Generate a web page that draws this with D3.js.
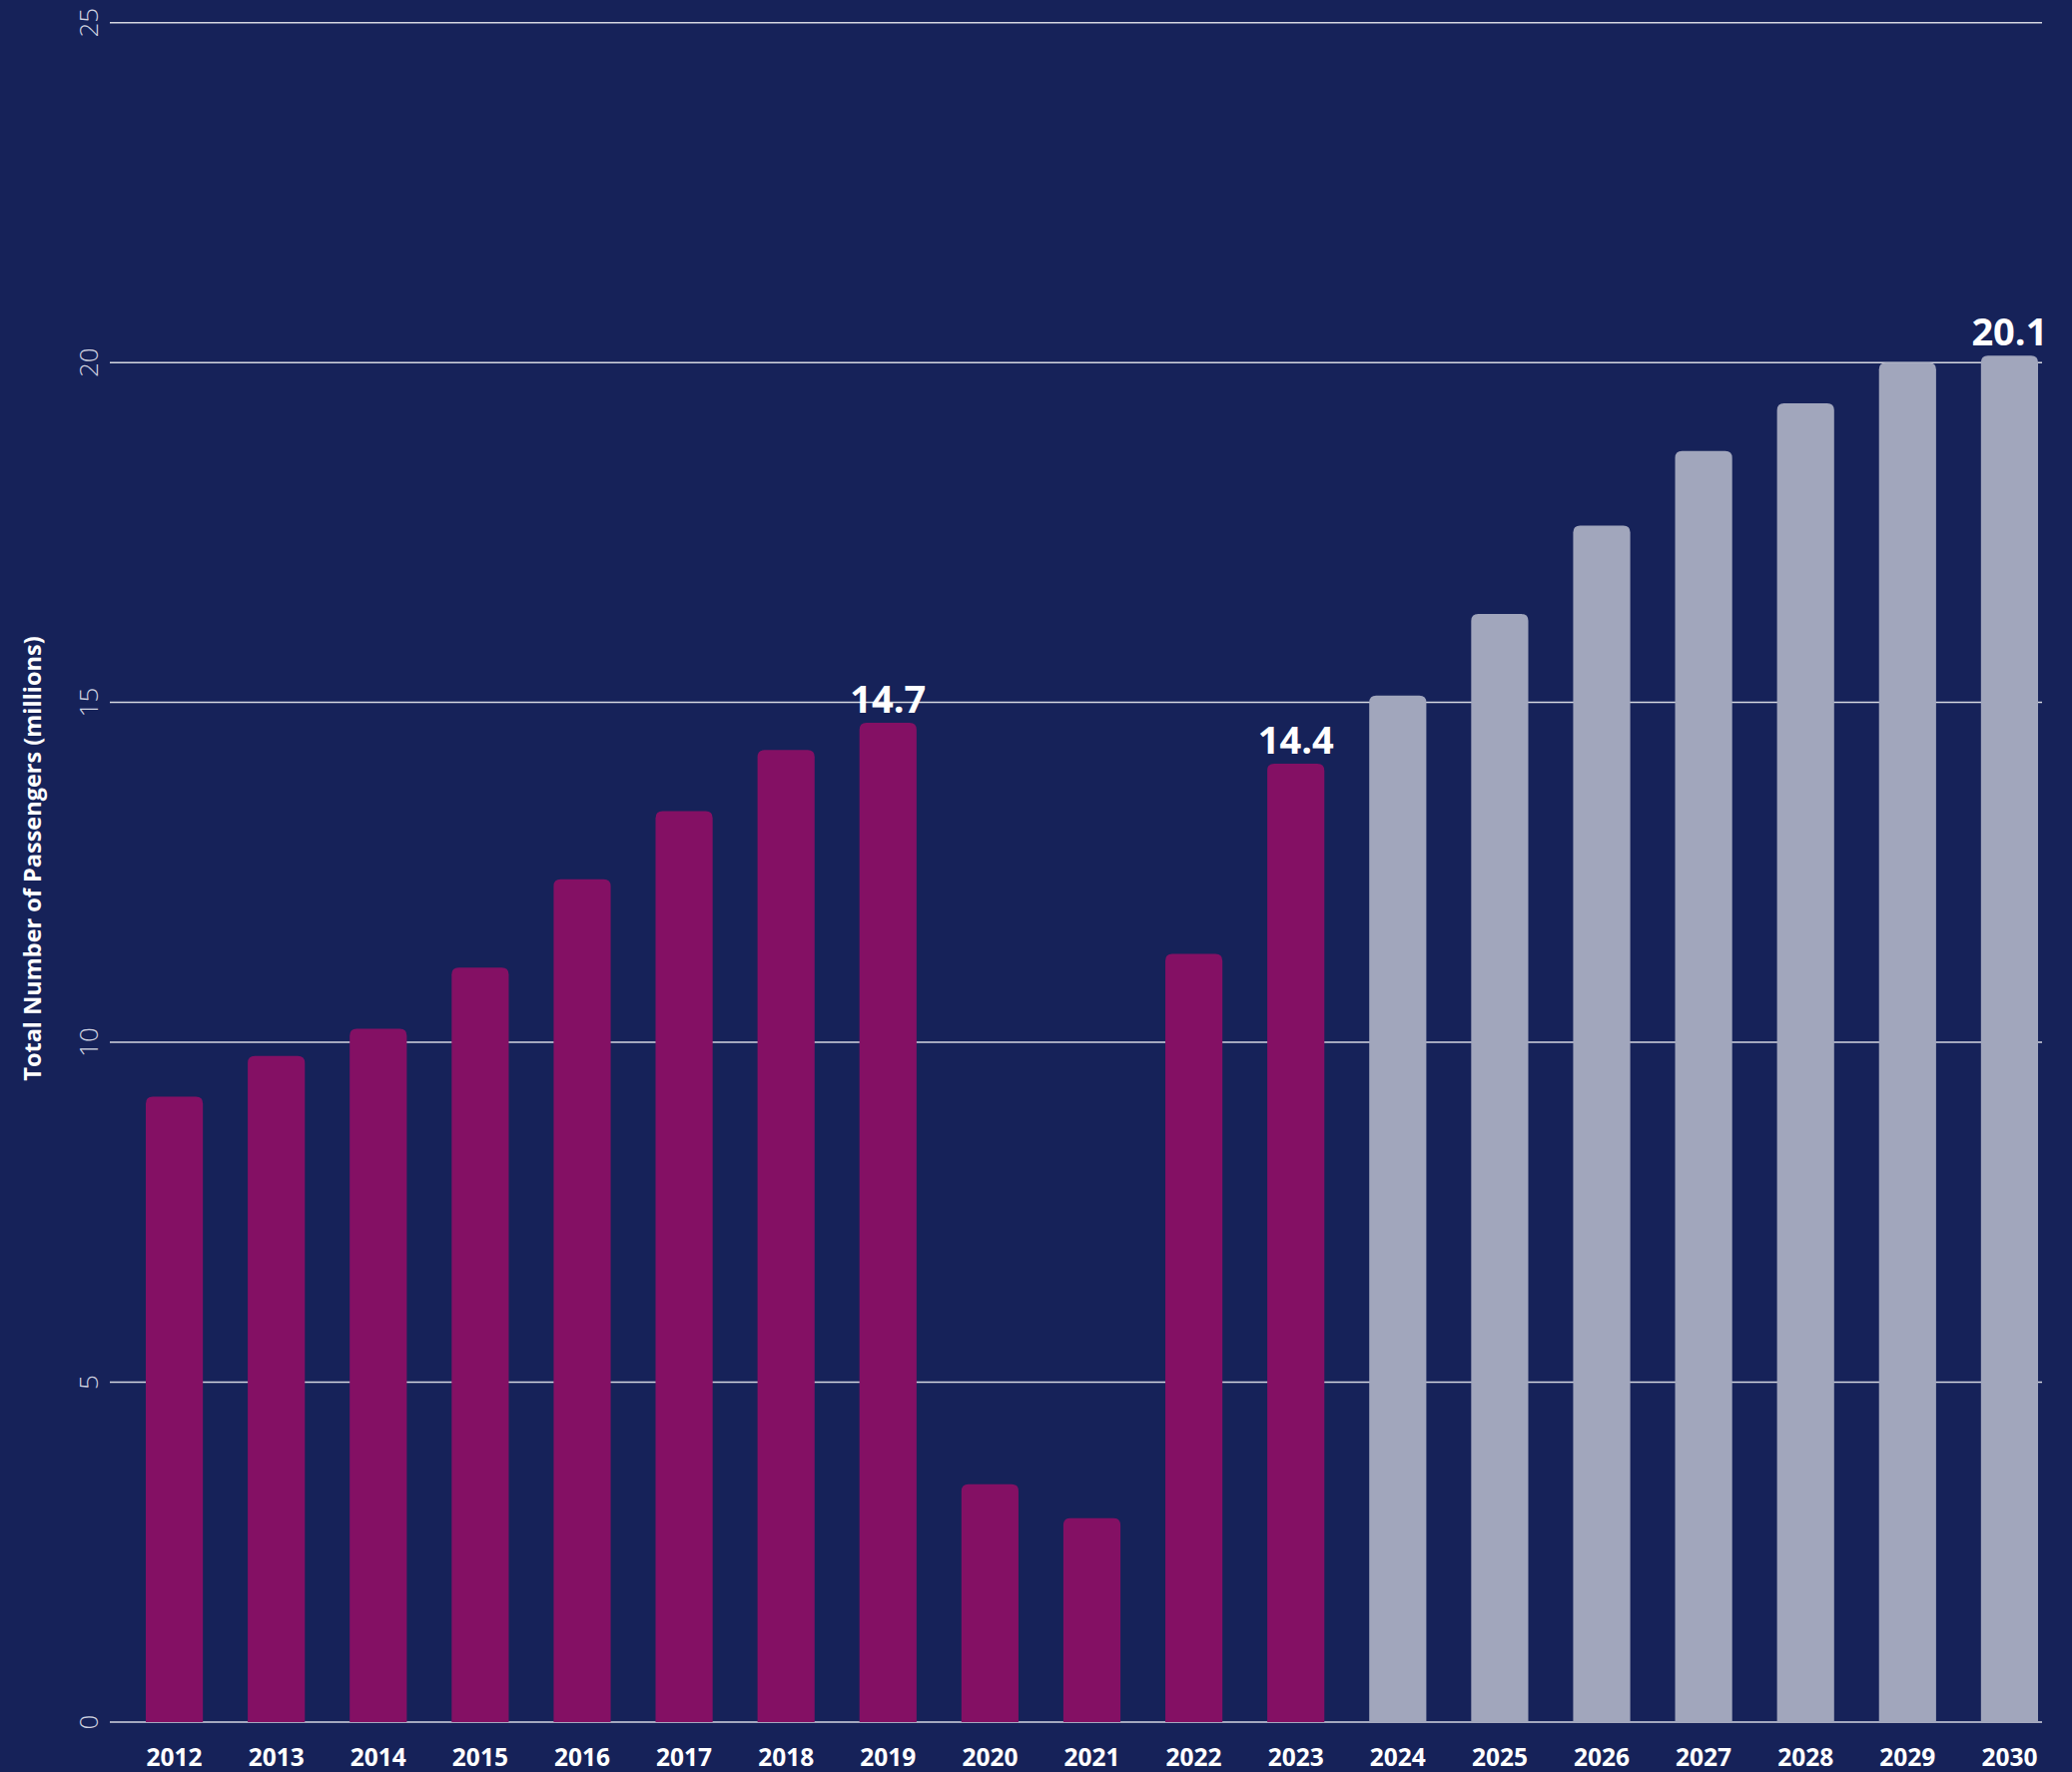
<!DOCTYPE html>
<html>
<head>
<meta charset="utf-8">
<script src="https://cdn.jsdelivr.net/npm/d3@7"></script>
<style>
  html, body { margin: 0; padding: 0; background: #162259; }
  svg { display: block; }
</style>
</head>
<body>
<div class="chartContainer"></div>
<script>
// data
const years = ["2012", "2013", "2014", "2015", "2016", "2017", "2018", "2019", "2020", "2021",
  "2022", "2023", "2024", "2025", "2026", "2027", "2028", "2029", "2030"];
const passengers = [9.2, 9.8, 10.2, 11.1, 12.4, 13.4, 14.3, 14.7, 3.5, 3.0,
  11.3, 14.1, 15.1, 16.3, 17.6, 18.7, 19.4, 20.0, 20.1];
const forecastFrom = "2024";
const yTicks = [0, 5, 10, 15, 20, 25];
const callouts = [
  { year: "2019", text: "14.7" },
  { year: "2023", text: "14.4" },
  { year: "2030", text: "20.1" }
];

function drawChart() {
  const w = 2075,
    h = 1775;

  const data = years.map(function (y, i) {
    return { year: y, value: passengers[i] };
  });

  const canvas = d3.select(".chartContainer")
    .append("svg")
    .attr("width", w)
    .attr("height", h);

  canvas.append("rect")
    .attr("width", w)
    .attr("height", h)
    .attr("fill", "#162259");

  const x = d3.scaleBand()
    .domain(years)
    .range([146, 2041])
    .paddingInner(0.44)
    .paddingOuter(0);

  const y = d3.scaleLinear()
    .domain([0, 25])
    .range([1725, 22.7]);

  // grid lines behind the bars
  canvas.selectAll("line.grid")
    .data(yTicks)
    .enter()
    .append("line")
    .attr("class", "grid")
    .attr("x1", 110)
    .attr("x2", 2045)
    .attr("y1", function (d) { return y(d); })
    .attr("y2", function (d) { return y(d); })
    .attr("stroke", "#d4d6e0")
    .attr("stroke-width", 1.5);

  // y tick labels, turned on their side
  canvas.selectAll("text.ytick")
    .data(yTicks)
    .enter()
    .append("text")
    .attr("class", "ytick")
    .attr("transform", function (d) {
      return "translate(98," + y(d) + ") rotate(-90)";
    })
    .attr("text-anchor", "middle")
    .attr("fill", "#d0d3e0")
    .style("font-family", "'Open Sans', sans-serif")
    .style("font-weight", 300)
    .style("font-size", "26px")
    .text(function (d) { return d; });

  canvas.append("text")
    .attr("transform", "translate(41,860) rotate(-90)")
    .attr("text-anchor", "middle")
    .attr("fill", "#ffffff")
    .style("font-family", "'Open Sans', sans-serif")
    .style("font-weight", 700)
    .style("font-size", "23.5px")
    .text("Total Number of Passengers (millions)");

  // bars with rounded tops only
  const r = 7;
  canvas.selectAll("path.bar")
    .data(data)
    .enter()
    .append("path")
    .attr("class", "bar")
    .attr("fill", function (d) {
      return +d.year >= +forecastFrom ? "#a1a6bc" : "#841064";
    })
    .attr("d", function (d) {
      const x0 = x(d.year),
        bw = x.bandwidth(),
        top = y(d.value),
        bottom = y(0);
      return "M" + x0 + "," + bottom +
        "V" + (top + r) +
        "Q" + x0 + "," + top + " " + (x0 + r) + "," + top +
        "H" + (x0 + bw - r) +
        "Q" + (x0 + bw) + "," + top + " " + (x0 + bw) + "," + (top + r) +
        "V" + bottom + "Z";
    });

  // year labels
  canvas.selectAll("text.year")
    .data(years)
    .enter()
    .append("text")
    .attr("class", "year")
    .attr("x", function (d) { return x(d) + x.bandwidth() / 2; })
    .attr("y", 1769)
    .attr("text-anchor", "middle")
    .attr("fill", "#ffffff")
    .style("font-family", "'Open Sans', sans-serif")
    .style("font-weight", 700)
    .style("font-size", "24.5px")
    .text(function (d) { return d; });

  // value callouts
  canvas.selectAll("text.callout")
    .data(callouts)
    .enter()
    .append("text")
    .attr("class", "callout")
    .attr("x", function (d) { return x(d.year) + x.bandwidth() / 2; })
    .attr("y", function (d) {
      return y(passengers[years.indexOf(d.year)]) - 10;
    })
    .attr("text-anchor", "middle")
    .attr("fill", "#ffffff")
    .style("font-family", "'Open Sans', sans-serif")
    .style("font-weight", 700)
    .style("font-size", "38px")
    .text(function (d) { return d.text; });
}

drawChart();
</script>
</body>
</html>
